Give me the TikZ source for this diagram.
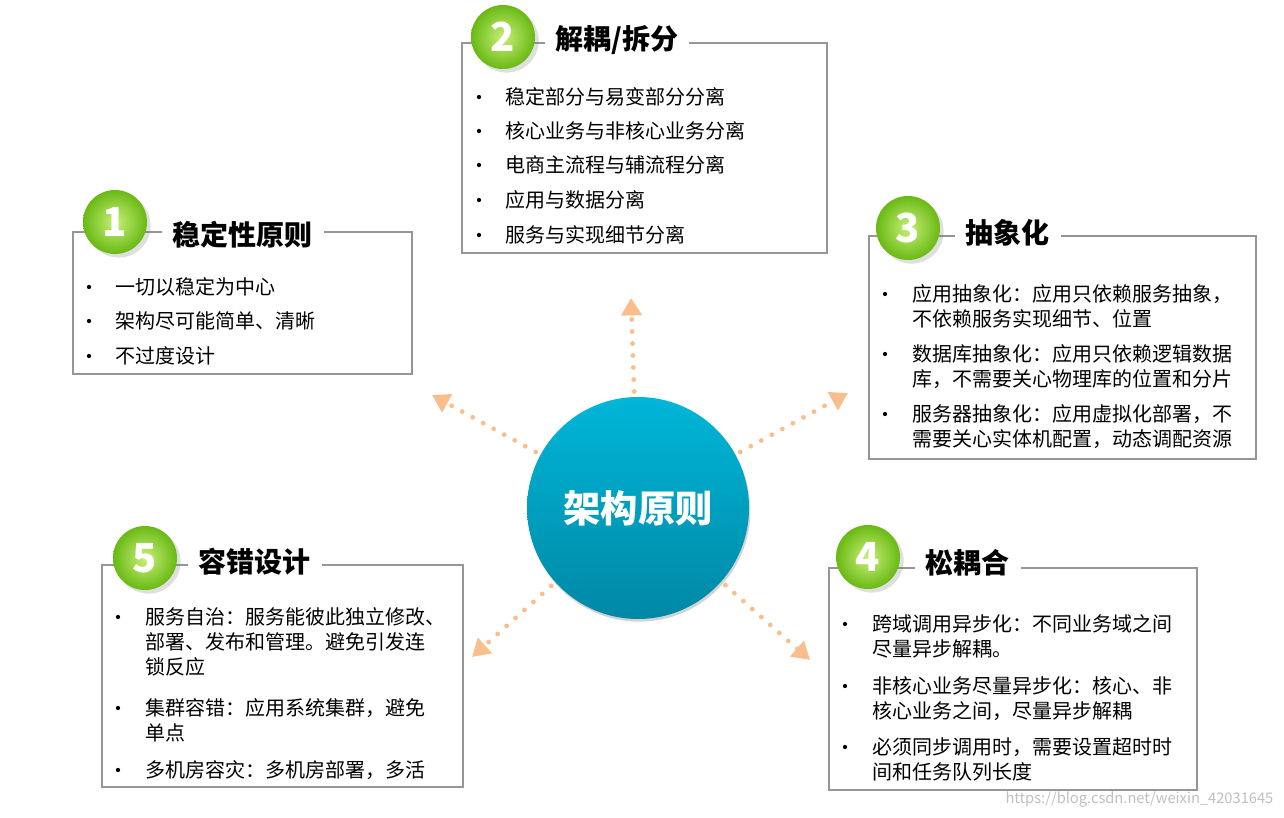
\documentclass[tikz,border=0pt]{standalone}
\usepackage{fontspec}
\setmainfont{Noto Sans CJK SC}
\usetikzlibrary{shadows,arrows.meta}
\definecolor{arr}{RGB}{250,190,140}
\definecolor{bord}{RGB}{150,150,150}
\definecolor{ctop}{RGB}{0,182,216}
\definecolor{cbot}{RGB}{0,136,165}
\definecolor{ballin}{RGB}{200,240,120}
\definecolor{ballout}{RGB}{105,185,20}
\tikzset{
 box/.style={draw=bord,line width=0.8pt},
 numball/.style={circle,minimum size=48pt,inner color=ballin,outer color=ballout,text=white,font=\fontsize{30}{30}\selectfont\bfseries,drop shadow={opacity=0.25}},
 ttl/.style={fill=white,inner xsep=8pt,anchor=west,font=\fontsize{21}{24}\selectfont\bfseries},
 itm/.style={anchor=north west,align=left,inner sep=0pt,font=\fontsize{15}{18.8}\selectfont},
 bul/.style={circle,fill=black,inner sep=0pt,minimum size=3.2pt,yshift=-10*0.75pt},
 darr/.style={arr,line width=3.6pt,dash pattern=on 0pt off 9pt,line cap=round,shorten <=4pt,-{Triangle[length=13pt,width=15pt,line cap=butt]}},
}
\begin{document}
\begin{tikzpicture}[x=0.75pt,y=-0.75pt]
\useasboundingbox (0,0) rectangle (1284,817);
% box 1
\draw[box] (73,232) rectangle (412,374);
\node[ttl] (t1) at (162,235) {稳定性原则};
\node[numball] (n1) at (115,222) {1};
\node[bul] (b11) at (89,277) {}; \node[itm] (i11) at (115,277) {一切以稳定为中心};
\node[bul] (b12) at (89,311) {}; \node[itm] (i12) at (115,311) {架构尽可能简单、清晰};
\node[bul] (b13) at (89,346) {}; \node[itm] (i13) at (115,346) {不过度设计};
% box 2
\draw[box] (462,43) rectangle (827,253);
\node[ttl] (t2) at (545,40) {解耦/拆分};
\node[numball] (n2) at (503,37) {2};
\node[bul] (b21) at (479,87) {}; \node[itm] (i21) at (505,87) {稳定部分与易变部分分离};
\node[bul] (b22) at (479,121) {}; \node[itm] (i22) at (505,121) {核心业务与非核心业务分离};
\node[bul] (b23) at (479,155) {}; \node[itm] (i23) at (505,155) {电商主流程与辅流程分离};
\node[bul] (b24) at (479,190) {}; \node[itm] (i24) at (505,190) {应用与数据分离};
\node[bul] (b25) at (479,225) {}; \node[itm] (i25) at (505,225) {服务与实现细节分离};
% box 3
\draw[box] (869,236) rectangle (1256,459);
\node[ttl] (t3) at (955,233) {抽象化};
\node[numball] (n3) at (908,228) {3};
\node[bul] (b31) at (885,284) {}; \node[itm] (i31) at (912,284) {应用抽象化：应用只依赖服务抽象，\\不依赖服务实现细节、位置};
\node[bul] (b32) at (885,344) {}; \node[itm] (i32) at (912,344) {数据库抽象化：应用只依赖逻辑数据\\库，不需要关心物理库的位置和分片};
\node[bul] (b33) at (885,404) {}; \node[itm] (i33) at (912,404) {服务器抽象化：应用虚拟化部署，不\\需要关心实体机配置，动态调配资源};
% box 4
\draw[box] (829,568) rectangle (1197,790);
\node[ttl] (t4) at (915,563) {松耦合};
\node[numball] (n4) at (868,557) {4};
\node[bul] (b41) at (845,614) {}; \node[itm] (i41) at (872,614) {跨域调用异步化：不同业务域之间\\尽量异步解耦。};
\node[bul] (b42) at (845,676) {}; \node[itm] (i42) at (872,676) {非核心业务尽量异步化：核心、非\\核心业务之间，尽量异步解耦};
\node[bul] (b43) at (845,737) {}; \node[itm] (i43) at (872,737) {必须同步调用时，需要设置超时时\\间和任务队列长度};
% box 5
\draw[box] (102,565) rectangle (463,787);
\node[ttl] (t5) at (188,562) {容错设计};
\node[numball] (n5) at (145,558) {5};
\node[bul] (b51) at (118,607) {}; \node[itm] (i51) at (145,607) {服务自治：服务能彼此独立修改、\\部署、发布和管理。避免引发连\\锁反应};
\node[bul] (b52) at (118,698) {}; \node[itm] (i52) at (145,698) {集群容错：应用系统集群，避免\\单点};
\node[bul] (b53) at (118,760) {}; \node[itm] (i53) at (145,760) {多机房容灾：多机房部署，多活};
% center
\node[circle,minimum size=166.5pt,top color=ctop,bottom color=cbot,drop shadow={opacity=0.35,shadow xshift=1pt,shadow yshift=-2pt},text=white,font=\fontsize{28}{30}\selectfont\bfseries] (c) at (638,508) {架构原则};
\coordinate (e1) at (432,395);
\coordinate (e2) at (631,298);
\coordinate (e3) at (848,393);
\coordinate (e4) at (810,660);
\coordinate (e5) at (472,657);
\foreach \e in {e1,e2,e3,e4,e5} \draw[darr] (c) -- (\e);
\node[anchor=south east,text=gray!50,font=\fontsize{11}{12}\selectfont] (wm) at (1278,812) {https://blog.csdn.net/weixin\_42031645};
\end{tikzpicture}
\end{document}
